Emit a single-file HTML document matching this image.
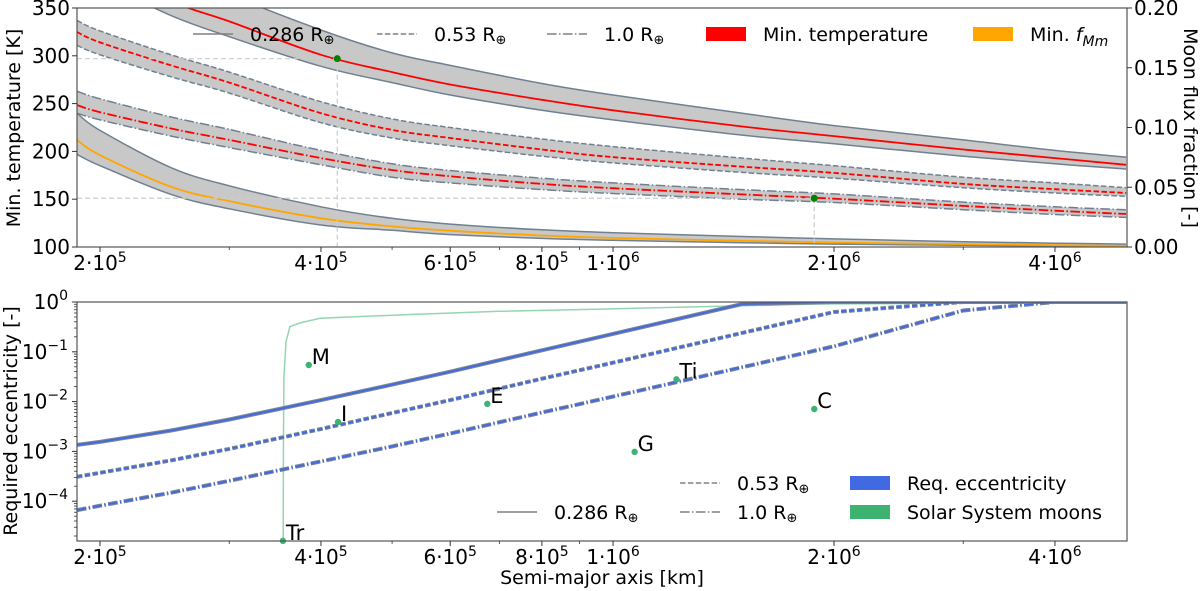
<!DOCTYPE html>
<html><head><meta charset="utf-8"><style>
html,body{margin:0;padding:0;background:#fff;}
svg{display:block;font-family:"DejaVu Sans","Liberation Sans",sans-serif;}
</style></head><body>
<svg id="chart" width="1200" height="591" viewBox="0 0 1200 591" xmlns="http://www.w3.org/2000/svg">
<defs>
<clipPath id="clipTop"><rect x="77" y="8" width="1050" height="239"/></clipPath>
<clipPath id="clipBot"><rect x="77" y="302" width="1050" height="239"/></clipPath>
</defs>
<g id="topPanel"></g>
<g id="botPanel"></g>
</svg>
<script>
// ---- data ----
const semiMajor = [1.86e5,2e5,2.5e5,3e5,4e5,5e5,6e5,8e5,1e6,1.5e6,2e6,3e6,4e6,5e6];
const tempSolid   = [420,395,357,336,301,283,270,254,243,226,216,202,193,186];
const tempSolidHi = [470,445,400,365,327,303,290,271,259,240,227,212,201,194];
const tempSolidLo = [390,378,342,320,289,272,259,243,233,217,208,195,187,181.6];
const tempDash    = [325,314,290,272,240,222.5,214,202,194,184,177.5,166,160.5,156.5];
const tempDashHi  = [337,326,301,283,252,234,225,213,205,193,185,173,167,162];
const tempDashLo  = [311,301,278,261,230,214,206,195,188,178,172,162,156.5,153];
const tempDot     = [248.5,241,224,212,193,180.5,174,166,161.5,155,150.5,143,138,134.5];
const tempDotHi   = [263,255,236,223,201,187,180,172,167,160,155.5,147,142,139];
const tempDotLo   = [240,233,216,204,186,173,167,160,156,150,146.5,139,134,131];
const fluxMin     = [0.0896,0.0768,0.0504,0.0384,0.024,0.0172,0.0136,0.0096,0.0076,0.0052,0.0038,0.0024,0.0016,0.0008];
const fluxHi      = [0.112,0.0976,0.0664,0.0512,0.0336,0.024,0.0192,0.0144,0.012,0.0088,0.0068,0.0044,0.0032,0.0024];
const fluxLo      = [0.0776,0.068,0.044,0.032,0.0184,0.014,0.0104,0.0072,0.0056,0.0036,0.0024,0.0014,0.0008,0.0004];
const markA = [4.21e5,1.88e6];
const markT = [297,151];
const eccSolid = [1.35e-3,1.55e-3,2.63e-3,4.37e-3,1.07e-2,2.19e-2,3.98e-2,0.107,0.229,0.912,2.5,6,10,14];
const eccDash  = [3.09e-4,3.72e-4,6.61e-4,1.12e-3,2.82e-3,5.89e-3,1.07e-2,2.88e-2,6.03e-2,0.24,0.631,2.2,5,8];
const eccDot   = [6.61e-5,8.13e-5,1.48e-4,2.57e-4,6.31e-4,1.26e-3,2.29e-3,6.03e-3,1.26e-2,4.9e-2,0.129,0.676,1.35,2.5];
const trendA = [3.553e5,3.556e5,3.561e5,3.584e5,3.63e5,3.746e5,3.99e5,5.13e5,7.0e5,9.6e5,1.91e6,3.37e6,5.0e6];
const trendE = [1.6e-5,1e-3,0.03,0.16,0.32,0.38,0.47,0.55,0.65,0.72,0.91,0.95,0.98];
const moonNames = ["Tr","M","I","E","G","Ti","C"];
const moonA = [3.55e5,3.85e5,4.22e5,6.74e5,1.07e6,1.22e6,1.88e6];
const moonE = [1.6e-5,0.0543,0.0039,0.009,0.00098,0.028,0.0071];
const xTickVals = [2e5,4e5,6e5,8e5,1e6,2e6,4e6];
const xTickMant = ["2","4","6","8","1","2","4"];
const xTickExp  = ["5","5","5","5","6","6","6"];
const xMinor = [3e5,5e5,7e5,9e5,3e6];
const tTicks = [100,150,200,250,300,350];
const fTicks = ["0.00","0.05","0.10","0.15","0.20"];
const eTickExp = [0,-1,-2,-3,-4];

// ---- scales ----
const X0=77,X1=1127;
function X(a){return 100+734*Math.log10(a/2e5);}
function YT(t){return 247-(t-100)*(239/250);}
function YF(f){return 247-f*(239/0.2);}
function YE(e){return 302-49.8*Math.log10(Math.min(e,1));}
const NS="http://www.w3.org/2000/svg";
function el(tag,attrs,parent){const e=document.createElementNS(NS,tag);for(const k in attrs)e.setAttribute(k,attrs[k]);parent.appendChild(e);return e;}
function smooth(pts){let d="M"+pts[0][0].toFixed(1)+","+pts[0][1].toFixed(1);
 for(let i=0;i<pts.length-1;i++){const p0=pts[Math.max(0,i-1)],p1=pts[i],p2=pts[i+1],p3=pts[Math.min(pts.length-1,i+2)];
  const c1=[p1[0]+(p2[0]-p0[0])/6,p1[1]+(p2[1]-p0[1])/6],c2=[p2[0]-(p3[0]-p1[0])/6,p2[1]-(p3[1]-p1[1])/6];
  d+=" C"+c1[0].toFixed(1)+","+c1[1].toFixed(1)+" "+c2[0].toFixed(1)+","+c2[1].toFixed(1)+" "+p2[0].toFixed(1)+","+p2[1].toFixed(1);}
 return d;}
function poly(pts){return "M"+pts.map(p=>p[0].toFixed(1)+","+p[1].toFixed(1)).join(" L");}
const DASH="5.5,2.4", DOT="9.6,2.4,1.5,2.4";

// ---- top panel ----
const topG=document.getElementById('topPanel');
const gT=el('g',{'clip-path':'url(#clipTop)'},topG);
function band(hi,lo,yf,dash,name){
 const ph=semiMajor.map((a,i)=>[X(a),yf(hi[i])]), pl=semiMajor.map((a,i)=>[X(a),yf(lo[i])]);
 const revLo=pl.slice().reverse();
 const fillD=smooth(ph)+" L"+revLo[0][0].toFixed(1)+","+revLo[0][1].toFixed(1)+" "+smooth(revLo).slice(1)+" Z";
 const f=el('path',{d:fillD,fill:'#c8c8c8',stroke:'none'},gT);
 
 
 [ph,pl].forEach((p,j)=>{const l=el('path',{d:smooth(p),fill:'none',stroke:'#708090','stroke-width':1.5},gT);
  if(dash)l.setAttribute('stroke-dasharray',dash);
  
  });
}
function line(vals,yf,color,dash,name,g,w){
 const p=semiMajor.map((a,i)=>[X(a),yf(vals[i])]);
 const l=el('path',{d:smooth(p),fill:'none',stroke:color,'stroke-width':w||1.8},g);
 if(dash)l.setAttribute('stroke-dasharray',dash);
 
 
}
band(tempSolidHi,tempSolidLo,YT,null,'temp-0286');
band(tempDashHi,tempDashLo,YT,DASH,'temp-053');
band(tempDotHi,tempDotLo,YT,DOT,'temp-10');
band(fluxHi,fluxLo,YF,null,'flux');
line(tempSolid,YT,'#ff0000',null,'min-temp-0286-line',gT);
line(tempDash,YT,'#ff0000',DASH,'min-temp-053-line',gT);
line(tempDot,YT,'#ff0000',DOT,'min-temp-10-line',gT);
line(fluxMin,YF,'#ffa500',null,'min-flux-line',gT);
markA.forEach((a,i)=>{
 const h=el('line',{x1:X0,x2:X(a),y1:YT(markT[i]),y2:YT(markT[i]),stroke:'#cccccc','stroke-width':1.2,'stroke-dasharray':'5,3'},topG);
 
 
 const v=el('line',{x1:X(a),x2:X(a),y1:YT(markT[i]),y2:247,stroke:'#cccccc','stroke-width':1.2,'stroke-dasharray':'5,3'},topG);
 
 
 const c=el('circle',{cx:X(a),cy:YT(markT[i]),r:3.5,fill:'#008000'},topG);
 
 
});
const tf=el('rect',{x:77,y:8,width:1050,height:239,fill:'none',stroke:'#555','stroke-width':1.2},topG);


function xAxis(g,yb){
 xTickVals.forEach((v,i)=>{
  el('line',{x1:X(v),x2:X(v),y1:yb,y2:yb+5,stroke:'#333','stroke-width':1},g);
  const t=el('text',{x:X(v),y:yb+23,'text-anchor':'middle','font-size':20,fill:'#000'},g);
  
  
  t.appendChild(document.createTextNode(xTickMant[i]+"\u00B710"));
  const s=document.createElementNS(NS,'tspan');s.setAttribute('dy','-8');s.setAttribute('font-size','14');s.textContent=xTickExp[i];t.appendChild(s);
 });
 xMinor.forEach(v=>el('line',{x1:X(v),x2:X(v),y1:yb,y2:yb+3,stroke:'#333','stroke-width':0.8},g));
}
xAxis(topG,247);
tTicks.forEach(v=>{
 el('line',{x1:72,x2:77,y1:YT(v),y2:YT(v),stroke:'#333'},topG);
 const t=el('text',{x:70,y:YT(v)+7,'text-anchor':'end','font-size':20},topG);t.textContent=v;
 
 
});
fTicks.forEach(v=>{
 const y=YF(parseFloat(v));
 el('line',{x1:1127,x2:1132,y1:y,y2:y,stroke:'#333'},topG);
 const t=el('text',{x:1134,y:y+7,'font-size':20},topG);t.textContent=v;
 
 
});
let yl=el('text',{x:0,y:0,'font-size':19,'text-anchor':'middle',transform:'translate(20,128) rotate(-90)'},topG);yl.textContent='Min. temperature [K]';

yl=el('text',{x:0,y:0,'font-size':19,'text-anchor':'middle',transform:'translate(1184,128) rotate(90)'},topG);yl.textContent='Moon flux fraction [-]';

// legends
function addEarth(t){const s=document.createElementNS(NS,'tspan');s.setAttribute('font-size','13');s.setAttribute('dy','3');s.textContent='\u2295';t.appendChild(s);}
function legLine(g,x,y,dash,label,name){
 const l=el('line',{x1:x,x2:x+40,y1:y,y2:y,stroke:'#808080','stroke-width':1.5},g);
 if(dash)l.setAttribute('stroke-dasharray',dash);
 const t=el('text',{x:x+57,y:y+7,'font-size':19},g);t.textContent=label;
 addEarth(t);
 
}
function legPatch(g,x,y,color,label,name){
 el('rect',{x:x,y:y-7,width:40,height:14,fill:color},g);
 const t=el('text',{x:x+57,y:y+7,'font-size':19},g);t.textContent=label;
 
 return t;
}
const lt=el('g',{},topG);
legLine(lt,193,34,null,'0.286 R','legend-0286');
legLine(lt,377,34,DASH,'0.53 R','legend-053');
legLine(lt,547,34,DOT,'1.0 R','legend-10');
legPatch(lt,706,34,'#ff0000','Min. temperature','legend-min-temperature');
const ft=legPatch(lt,973,34,'#ffa500','Min. ','legend-min-flux');
const fi=document.createElementNS(NS,'tspan');fi.setAttribute('font-style','italic');fi.textContent='f';ft.appendChild(fi);
const fs=document.createElementNS(NS,'tspan');fs.setAttribute('font-style','italic');fs.setAttribute('font-size','14');fs.setAttribute('dy','5');fs.textContent='Mm';ft.appendChild(fs);

// ---- bottom panel ----
const botG=document.getElementById('botPanel');
const gB=el('g',{'clip-path':'url(#clipBot)'},botG);
const tr=el('path',{d:poly(trendA.map((a,i)=>[X(a),YE(trendE[i])])),fill:'none',stroke:'#3cb371','stroke-opacity':0.55,'stroke-width':1.5},gB);

[[eccSolid,null,'ecc-0286-line'],[eccDash,DASH,'ecc-053-line'],[eccDot,DOT,'ecc-10-line']].forEach(s=>{
 const p=poly(semiMajor.map((a,i)=>[X(a),YE(s[0][i])]));
 const g1=el('path',{d:p,fill:'none',stroke:'#7a8595','stroke-width':4},gB);
 if(s[1])g1.setAttribute('stroke-dasharray',s[1]);
 
 const b=el('path',{d:p,fill:'none',stroke:'#4169e1','stroke-width':1.8},gB);
 if(s[1])b.setAttribute('stroke-dasharray',s[1]);
 
});
moonNames.forEach((n,i)=>{
 const c=el('circle',{cx:X(moonA[i]),cy:YE(moonE[i]),r:3.2,fill:'#3cb371'},botG);
 
 const t=el('text',{x:X(moonA[i])+3,y:YE(moonE[i])-1,'font-size':21},botG);t.textContent=n;
 
});
const bf=el('rect',{x:77,y:302,width:1050,height:239,fill:'none',stroke:'#555','stroke-width':1.2},botG);


xAxis(botG,541);
eTickExp.forEach(k=>{
 const y=YE(Math.pow(10,k));
 el('line',{x1:72,x2:77,y1:y,y2:y,stroke:'#333'},botG);
 const t=el('text',{x:68,y:y+7,'text-anchor':'end','font-size':20},botG);
 
 t.appendChild(document.createTextNode('10'));
 const s=document.createElementNS(NS,'tspan');s.setAttribute('dy','-9');s.setAttribute('font-size','14');s.textContent=(k<0?'\u2212':'')+Math.abs(k);t.appendChild(s);
});
for(let k=-5;k<0;k++)for(let m=2;m<10;m++){const y=YE(m*Math.pow(10,k));if(y>=302&&y<=541)el('line',{x1:74,x2:77,y1:y,y2:y,stroke:'#333','stroke-width':0.8},botG);}
yl=el('text',{x:0,y:0,'font-size':19,'text-anchor':'middle',transform:'translate(17,421) rotate(-90)'},botG);yl.textContent='Required eccentricity [-]';

yl=el('text',{x:602,y:584,'font-size':19,'text-anchor':'middle'},botG);yl.textContent='Semi-major axis [km]';

const lb=el('g',{},botG);
legLine(lb,497,512,null,'0.286 R','legend-0286-b');
legLine(lb,680,483,DASH,'0.53 R','legend-053-b');
legLine(lb,680,512,DOT,'1.0 R','legend-10-b');
legPatch(lb,850,483,'#4169e1','Req. eccentricity','legend-req-ecc');
legPatch(lb,850,512,'#3cb371','Solar System moons','legend-moons');
</script>
</body></html>
